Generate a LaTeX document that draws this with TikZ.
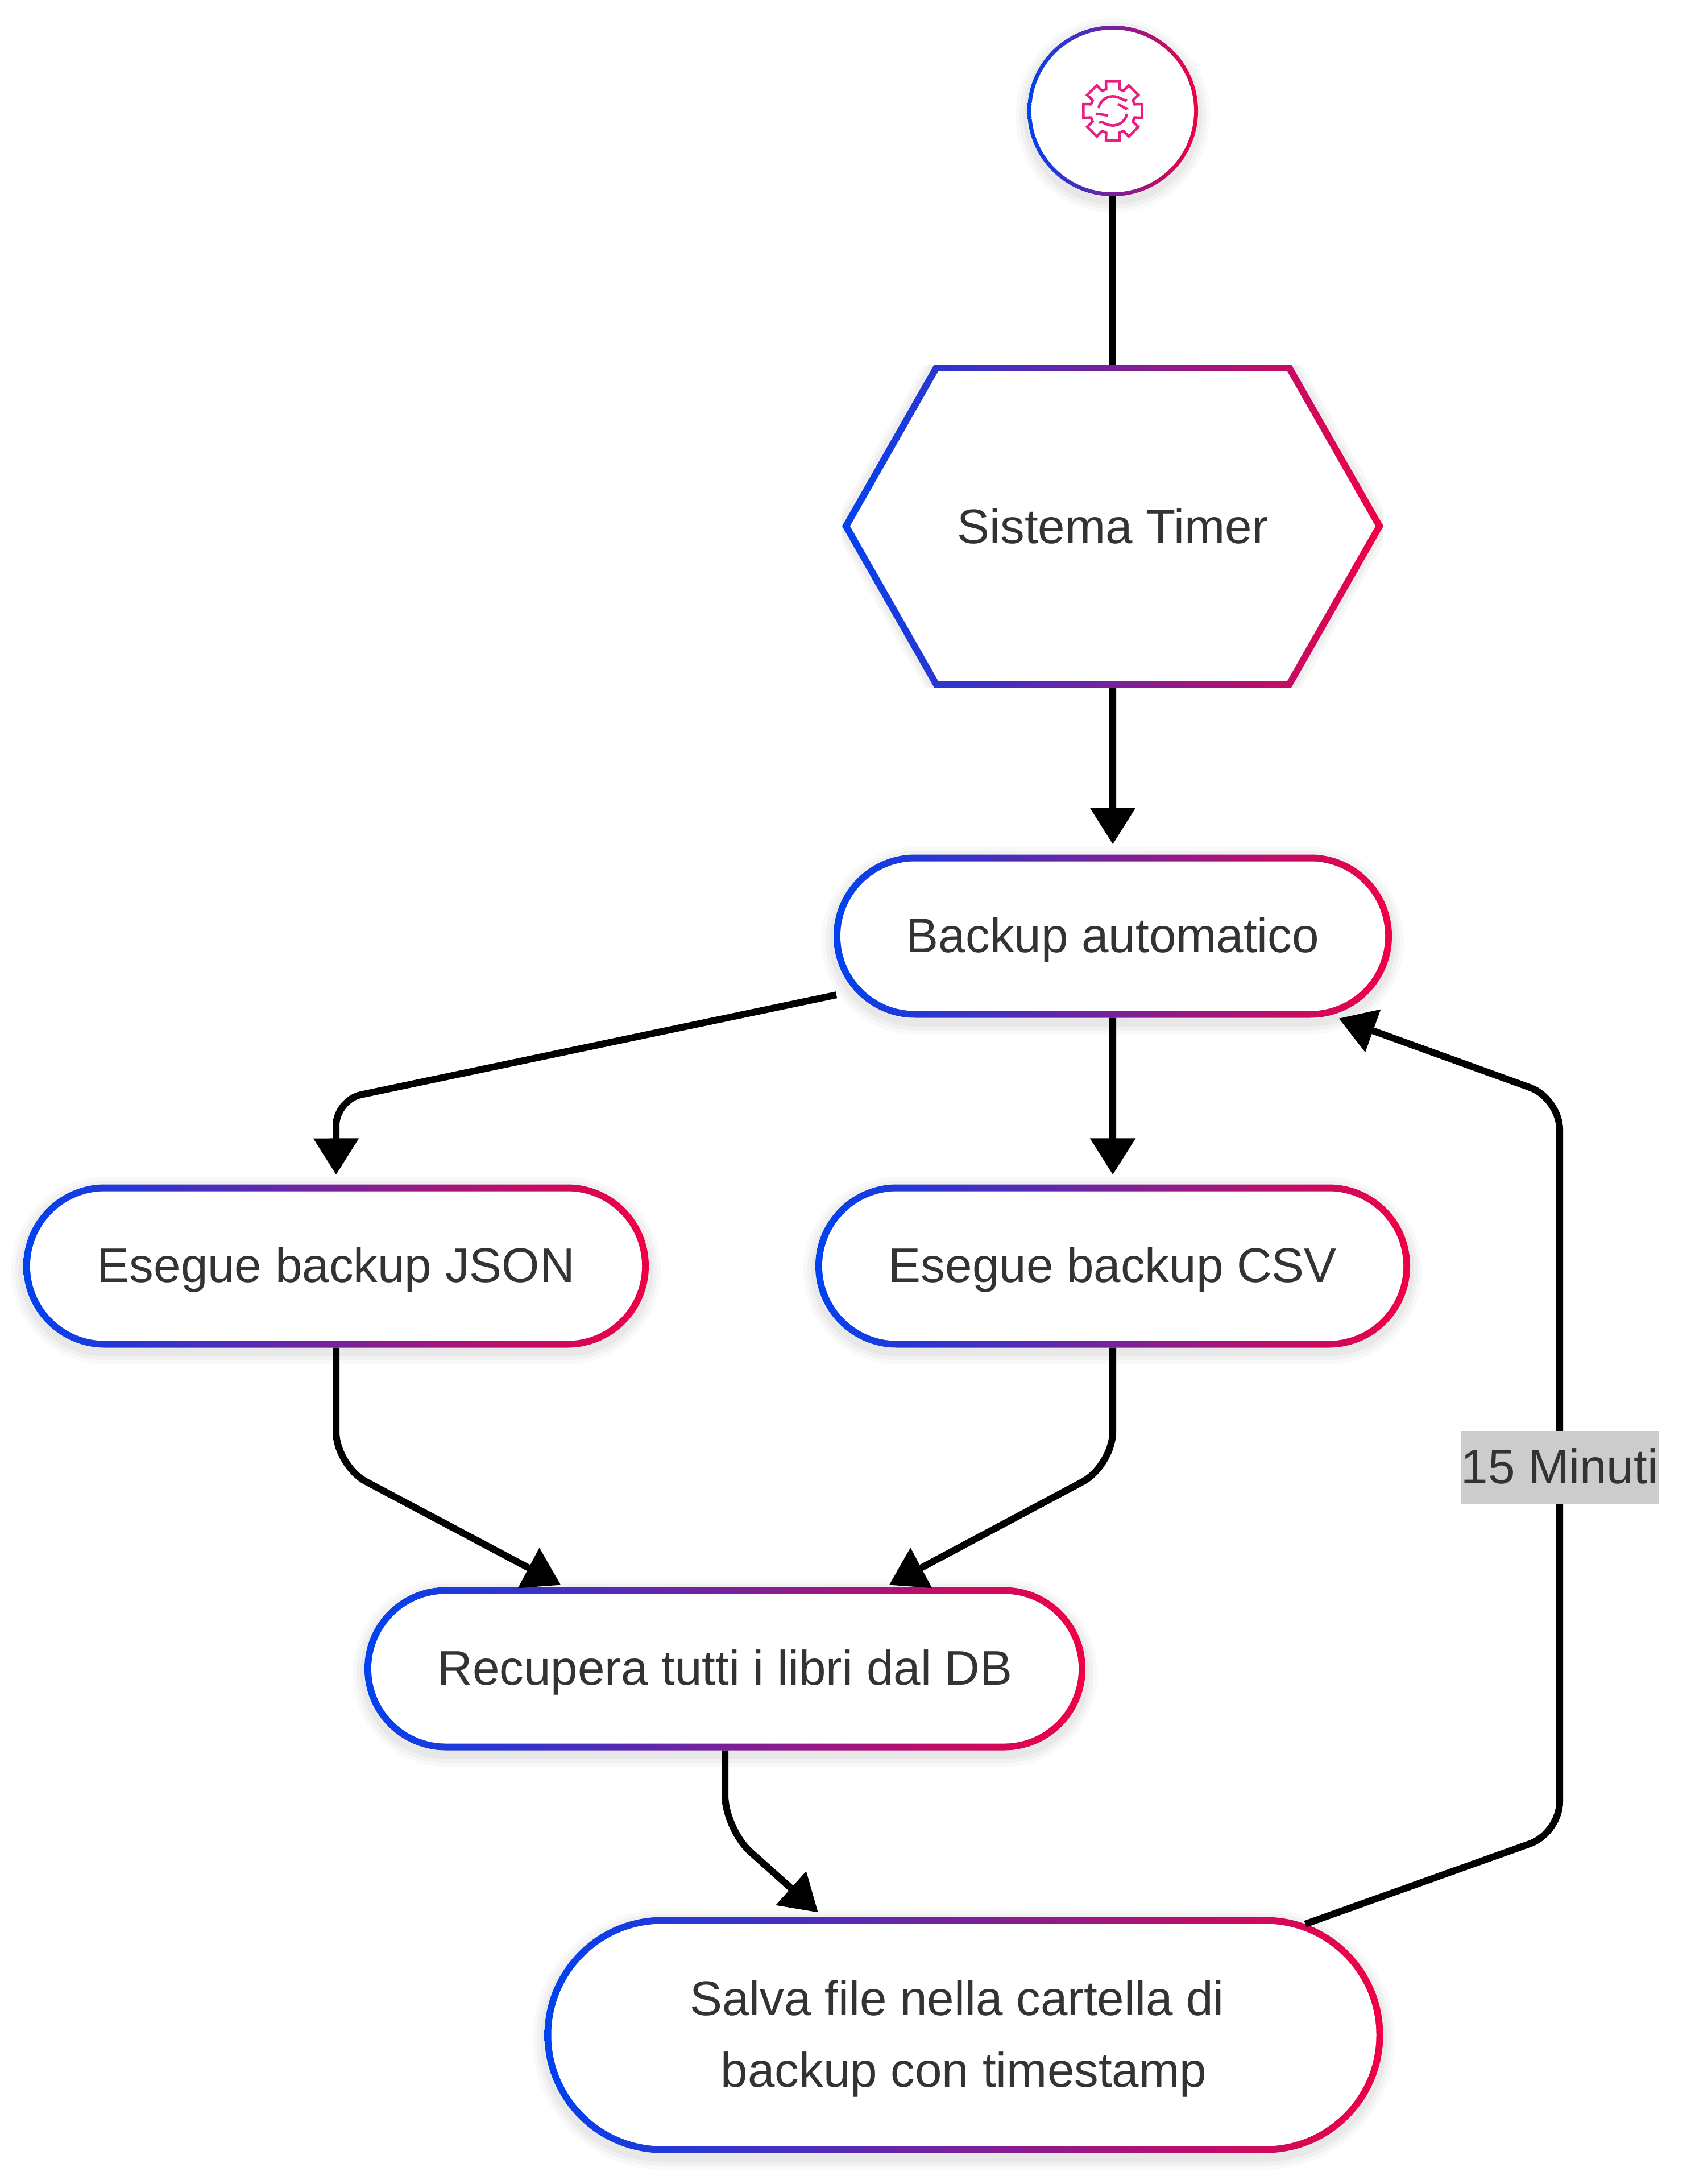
\documentclass[tikz,border=0pt]{standalone}
\usepackage{fontspec}
\setmainfont{Liberation Sans}
\usetikzlibrary{arrows.meta}
\usetikzlibrary{positioning}
\usetikzlibrary{shapes.misc}
\definecolor{gradleft}{HTML}{0042F0}
\definecolor{gradright}{HTML}{F00044}
\definecolor{labeltext}{HTML}{333333}
\definecolor{labelback}{HTML}{CCCCCC}
\definecolor{iconpink}{HTML}{E91E80}
\pgfdeclareradialshading{innerglow}{\pgfpointorigin}{color(0bp)=(white); color(39bp)=(white); color(50bp)=(black!9)}
\newcommand{\hexouter}{(path picture bounding box.west) -- ++(1.62,2.84) -- ++(6.28,0) -- ++(1.62,-2.84) -- ++(-1.62,-2.84) -- ++(-6.28,0) -- cycle}
\newcommand{\hexinner}{([xshift=.14cm]path picture bounding box.west) -- ++(1.55,2.72) -- ++(6.14,0) -- ++(1.55,-2.72) -- ++(-1.55,-2.72) -- ++(-6.14,0) -- cycle}
\tikzset{
    softshadow/.style={
        preaction={draw=black,draw opacity=.025,line width=.42cm,transform canvas={yshift=-.08cm}},
        preaction={draw=black,draw opacity=.03,line width=.28cm,transform canvas={yshift=-.08cm}},
        preaction={draw=black,draw opacity=.04,line width=.14cm,transform canvas={yshift=-.08cm}}
    }
}
\begin{document}
\begin{tikzpicture}[>={Triangle[length=.64cm,width=.77cm]},
                    shorten >=.18cm,
                    link/.style={line width=.12cm,rounded corners=.6cm},
                    tight/.style={rounded corners=.45cm},
                    txt/.style={font=\fontsize{24.3}{36}\selectfont,text=labeltext,align=center,inner sep=0pt,outer sep=0pt,text depth=0pt},
                    pill/.style 2 args={txt,text depth=.05cm,rounded rectangle,minimum width=#1cm,minimum height=#2cm,
                        left color=gradleft,right color=gradright,softshadow,
                        path picture={\node[rounded rectangle,fill=white,inner sep=0pt,
                            minimum width=#1cm-.24cm,minimum height=#2cm-.24cm]
                            at (path picture bounding box.center) {};}},
                    roundel/.style={circle,minimum size=3cm,inner sep=0pt,outer sep=0pt,
                        left color=gradleft,right color=gradright,softshadow,
                        path picture={\shade[shading=innerglow] (path picture bounding box.center) circle (1.43cm);}},
                    hexa/.style={txt,rectangle,minimum width=9.52cm,minimum height=5.68cm,
                        path picture={
                            \draw[black,draw opacity=.03,line width=.3cm,yshift=-.06cm] \hexouter;
                            \draw[black,draw opacity=.04,line width=.16cm,yshift=-.06cm] \hexouter;
                            \shade[left color=gradleft,right color=gradright] \hexouter;
                            \fill[white] \hexinner;}},
                    tag/.style={txt,text depth=.05cm,sharp corners,fill=labelback,minimum width=3.48cm,minimum height=1.28cm}
                    ]
  \useasboundingbox (0,0) rectangle (29.73,-38.4);
  % nodes
  \node[roundel] (start) at (19.57,-1.95) {};
  \node[node distance=7.3cm,below of=start,hexa] (timer) {Sistema Timer};
  \node[node distance=7.21cm,below of=timer,pill={9.82}{2.87}] (backup) {Backup automatico};
  \node[node distance=5.8cm,below of=backup,pill={10.46}{2.87}] (csv) {Esegue backup CSV};
  \node[node distance=13.66cm,left of=csv,pill={11.0}{2.87}] (json) {Esegue backup JSON};
  \node[node distance=7.08cm,below of=json,xshift=6.84cm,pill={12.68}{2.87}] (recupera) {Recupera tutti i libri dal DB};
  \node[node distance=6.44cm,below of=recupera,xshift=4.2cm,pill={14.75}{4.15}] (salva) {Salva file nella cartella di\hspace*{.278em}\\backup con timestamp};
  % gear icon
  \begin{scope}[shift={(start)},x=.01cm,y=.01cm,draw=iconpink,line width=.045cm]
    \draw (-17:40) foreach \a in {0,45,...,315}{ -- (\a-13:53) -- (\a+13:53) -- (\a+17:40) -- (\a+28:40) } -- cycle;
    \draw (-25,5) arc (169:7:25.5);
    \draw (9,12) -- (25,3) -- (33,19);
    \draw (25,-5) arc (-11:-170:25.5);
    \draw (-8,-8) -- (-28,-5) -- (-28,-21);
  \end{scope}
  % bends
  \coordinate[node distance=2.92cm,above of=json] (bendjsontop);
  \coordinate[node distance=3.51cm,below of=json] (bendjson);
  \coordinate[node distance=3.51cm,below of=csv] (bendcsv);
  \coordinate[node distance=2.82cm,below of=recupera] (bendrecupera);
  \coordinate[node distance=3.55cm,above of=salva,xshift=10.48cm] (bendloopa);
  \coordinate[node distance=2.85cm,below of=backup,xshift=7.86cm] (bendloopb);
  % edges
  \draw[link,shorten >=0pt] (start) -- (timer);
  \draw[link,->] (timer) -- (backup);
  \draw[link,tight,->,shorten <=.33cm,shorten >=.17cm] (backup.192) -- (bendjsontop) -- (json);
  \draw[link,->,shorten >=.17cm] (backup) -- (csv);
  \draw[link,->,shorten >=.08cm] (json) -- (bendjson) -- (recupera.153);
  \draw[link,->,shorten >=.08cm] (csv) -- (bendcsv) -- (recupera.27);
  \draw[link,->,shorten >=.12cm] (recupera) -- (bendrecupera) -- (salva.140);
  \draw[link,rounded corners=.55cm,->,shorten >=.16cm] (salva.18) -- (bendloopa) -- node[tag,pos=.498] (minuti) {15 Minuti} (bendloopb) -- (backup.340);
\end{tikzpicture}
\end{document}
